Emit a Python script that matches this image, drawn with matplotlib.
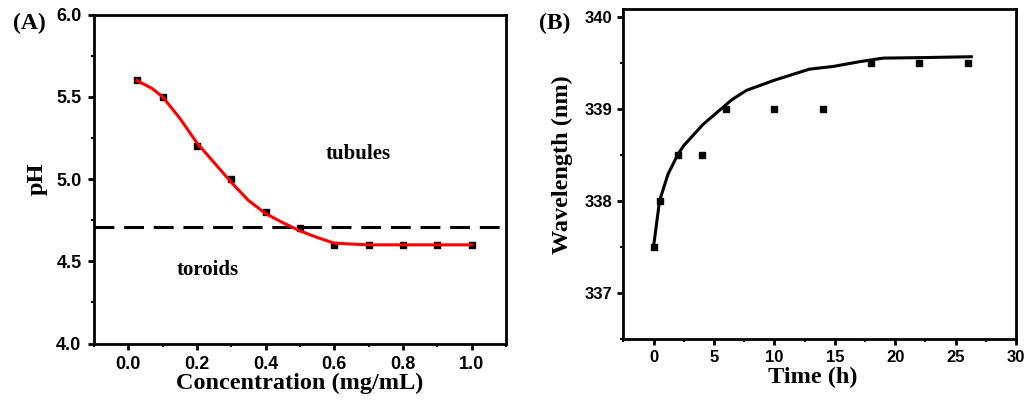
import matplotlib
matplotlib.use("Agg")
import matplotlib.pyplot as plt
from matplotlib.ticker import MultipleLocator

# panel A: pH vs concentration
conc = [0.025, 0.1, 0.2, 0.3, 0.4, 0.5, 0.6, 0.7, 0.8, 0.9, 1.0]
ph = [5.6, 5.5, 5.2, 5.0, 4.8, 4.7, 4.6, 4.6, 4.6, 4.6, 4.6]
fit_conc = [0.025, 0.07, 0.1, 0.15, 0.2, 0.25, 0.3, 0.35, 0.4, 0.45, 0.5, 0.55, 0.6, 0.7, 0.8, 0.9, 1.0]
fit_ph = [5.6, 5.55, 5.5, 5.37, 5.22, 5.1, 4.98, 4.87, 4.79, 4.735, 4.685, 4.645, 4.61, 4.6, 4.6, 4.6, 4.6]
boundary_ph = 4.71

# panel B: wavelength vs time
time_h = [0, 0.5, 2, 4, 6, 10, 14, 18, 22, 26]
wavelength = [337.5, 338.0, 338.5, 338.5, 339.0, 339.0, 339.0, 339.5, 339.5, 339.5]
fit_time = [0, 0.5, 1.2, 2.0, 2.5, 4.1, 6.5, 7.7, 10, 12.9, 14.9, 17, 19, 22, 26.3]
fit_wl = [337.5, 338.0, 338.29, 338.5, 338.6, 338.83, 339.1, 339.2, 339.31, 339.43, 339.46, 339.51, 339.55, 339.555, 339.565]

serif = "Liberation Serif"
sans = "Liberation Sans"

fig = plt.figure(figsize=(10.29, 4.07), dpi=100)
axA = fig.add_axes([94 / 1029, 1 - 343.5 / 407, (506 - 94) / 1029, (343.5 - 14.7) / 407])
axB = fig.add_axes([623.3 / 1029, 1 - 339 / 407, (1016 - 623.3) / 1029, (339 - 9.3) / 407])


def style(ax, size, pad):
    for s in ax.spines.values():
        s.set_linewidth(2.0)
    ax.tick_params(which="major", direction="out", length=4, width=2, top=False, right=False,
                   labelsize=size, pad=pad)
    ax.tick_params(which="minor", direction="out", length=2, width=1.5, top=False, right=False)
    for lab in ax.get_xticklabels() + ax.get_yticklabels():
        lab.set_fontfamily(sans)
        lab.set_fontweight("bold")


# ---- A ----
axA.axhline(boundary_ph, color="black", lw=2.2, ls=(0, (6.5, 3.2)))
axA.plot(fit_conc, fit_ph, color="red", lw=2.2, zorder=3)
axA.plot(conc, ph, "s", color="black", ms=5, zorder=2)
axA.set_xlim(-0.1, 1.1)
axA.set_ylim(4.0, 6.0)
axA.set_xticks([0.0, 0.2, 0.4, 0.6, 0.8, 1.0])
axA.set_xticklabels(["0.0", "0.2", "0.4", "0.6", "0.8", "1.0"])
axA.xaxis.set_minor_locator(MultipleLocator(0.1))
axA.set_yticks([4.0, 4.5, 5.0, 5.5, 6.0])
axA.set_yticklabels(["4.0", "4.5", "5.0", "5.5", "6.0"])
axA.yaxis.set_minor_locator(MultipleLocator(0.25))
style(axA, 13, 5)
axA.set_xlabel("Concentration (mg/mL)", fontfamily=serif, fontweight="bold", fontsize=17.5, labelpad=0)
axA.set_ylabel("pH", fontfamily=serif, fontweight="bold", fontsize=17.5, labelpad=6)
axA.text(0.669, 5.15, "tubules", fontfamily=serif, fontweight="bold", fontsize=15,
         ha="center", va="center")
axA.text(0.23, 4.45, "toroids", fontfamily=serif, fontweight="bold", fontsize=15,
         ha="center", va="center")
fig.text(29 / 1029, 1 - 23 / 407, "(A)", fontfamily=serif, fontweight="bold", fontsize=17,
         ha="center", va="center")

# ---- B ----
axB.plot(fit_time, fit_wl, color="black", lw=2.2, zorder=3)
axB.plot(time_h, wavelength, "s", color="black", ms=5, zorder=2)
axB.set_xlim(-2.5, 30)
axB.set_ylim(336.5, 340.08)
axB.set_xticks([0, 5, 10, 15, 20, 25, 30])
axB.xaxis.set_minor_locator(MultipleLocator(2.5))
axB.set_yticks([337, 338, 339, 340])
axB.yaxis.set_minor_locator(MultipleLocator(0.5))
style(axB, 12, 4)
axB.set_xlabel("Time (h)", fontfamily=serif, fontweight="bold", fontsize=17.5)
axB.xaxis.set_label_coords(0.483, -0.085, transform=axB.transAxes)
axB.set_ylabel("Wavelength (nm)", fontfamily=serif, fontweight="bold", fontsize=17.5)
axB.yaxis.set_label_coords(-0.128, 0.528, transform=axB.transAxes)
fig.text(555 / 1029, 1 - 23 / 407, "(B)", fontfamily=serif, fontweight="bold", fontsize=17,
         ha="center", va="center")

fig.savefig("out.png", dpi=100)
